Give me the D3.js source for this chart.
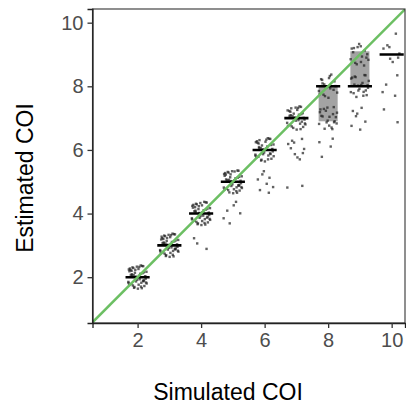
<!DOCTYPE html>
<html>
<head>
<meta charset="utf-8">
<script src="https://cdn.jsdelivr.net/npm/d3@7"></script>
<style>
  body { margin: 0; background: #fff; }
  svg { display: block; font-family: "Liberation Sans", Arial, sans-serif; }
</style>
</head>
<body>
<div id="chart"></div>
<script>
// simulated COI groups and the summary read off the boxes
var simulatedCOI = [2, 3, 4, 5, 6, 7, 8, 9, 10];
var medianCOI = [2, 3, 4, 5, 6, 7, 8, 8, 9];
var q1COI = [2, 3, 4, 5, 6, 7, 6.9, 8, 9];
var q3COI = [2, 3, 4, 5, 6, 7, 8, 9.1, 9];

// estimated COI per group: [estimate, number of runs]
var estimatesCOI = [
  [[2, 50]],
  [[3, 48]],
  [[4, 45], [3, 3]],
  [[5, 42], [4, 6]],
  [[6, 38], [5, 8]],
  [[7, 34], [6, 10], [5, 2]],
  [[8, 18], [7, 22], [6, 4]],
  [[9, 16], [8, 22], [7, 7]],
  [[10, 1], [9, 7], [8, 4], [7, 2]]
];

var xTicks = [2, 4, 6, 8, 10];
var yTicks = [2, 4, 6, 8, 10];

// fixed jitter table (fractions of the jitter width / height)
var jitterX = [0.62,-0.81,0.14,-0.37,0.93,-0.05,0.48,-0.66,0.27,-0.92,0.71,-0.19,0.39,-0.54,0.85,-0.28,0.03,-0.74,0.57,-0.41,0.18,-0.88,0.66,-0.12,0.95,-0.59,0.33,-0.97,0.09,-0.33,0.77,-0.63,0.22,-0.49,0.51,-0.08,0.89,-0.71,0.44,-0.24,0.68,-0.86,0.11,-0.45,0.81,-0.16,0.36,-0.58,0.59,-0.95];
var jitterY = [-0.34,0.72,0.11,-0.88,0.45,-0.21,0.93,-0.57,0.28,0.64,-0.73,0.05,-0.46,0.81,-0.12,0.37,-0.95,0.59,-0.29,0.16,0.85,-0.64,0.41,-0.07,-0.52,0.24,0.97,-0.39,0.68,-0.81,0.02,0.53,-0.17,-0.69,0.33,0.87,-0.44,0.19,-0.91,0.61,-0.26,0.49,-0.62,0.76,0.08,-0.35,-0.78,0.14,0.91,-0.48];

var W = 406, H = 407;
var margin = {top: 9, right: 1, bottom: 84, left: 92.5};
var width = W - margin.left - margin.right,
    height = H - margin.top - margin.bottom;

var svg = d3.select("#chart").append("svg")
    .attr("width", W)
    .attr("height", H);

svg.append("defs").append("clipPath")
    .attr("id", "panel-clip")
    .append("rect")
    .attr("width", width)
    .attr("height", height);

var g = svg.append("g")
    .attr("transform", "translate(" + margin.left + "," + margin.top + ")");

var x = d3.scaleLinear().domain([0.58, 10.42]).range([0, width]);
var y = d3.scaleLinear().domain([0.56, 10.43]).range([height, 0]);

// build jittered points
var points = [];
simulatedCOI.forEach(function(s, gi) {
  var k = 0;
  estimatesCOI[gi].forEach(function(e) {
    for (var n = 0; n < e[1]; n++) {
      var j = (k + gi * 11) % jitterX.length;
      points.push({x: s + jitterX[j] * 0.3, y: e[0] + jitterY[j] * 0.38});
      k++;
    }
  });
});

var plot = g.append("g").attr("clip-path", "url(#panel-clip)");

// boxes
plot.selectAll(".box")
    .data(simulatedCOI)
    .enter().append("rect")
    .attr("class", "box")
    .attr("x", function(d) { return x(d - 0.3); })
    .attr("width", x(0.6) - x(0))
    .attr("y", function(d, i) { return y(q3COI[i]); })
    .attr("height", function(d, i) { return y(q1COI[i]) - y(q3COI[i]); })
    .style("fill", "#a3a3a3");

// jittered points
plot.selectAll(".pt")
    .data(points)
    .enter().append("rect")
    .attr("class", "pt")
    .attr("x", function(d) { return x(d.x) - 1.2; })
    .attr("y", function(d) { return y(d.y) - 1.2; })
    .attr("width", 2.4)
    .attr("height", 2.4)
    .style("fill", "#1f1f1f")
    .style("opacity", 0.7);

// medians
plot.selectAll(".med")
    .data(simulatedCOI)
    .enter().append("line")
    .attr("class", "med")
    .attr("x1", function(d) { return x(d - 0.38); })
    .attr("x2", function(d) { return x(d + 0.38); })
    .attr("y1", function(d, i) { return y(medianCOI[i]); })
    .attr("y2", function(d, i) { return y(medianCOI[i]); })
    .style("stroke", "#000")
    .style("stroke-width", 2.6);

// identity line
var lo = Math.max(x.domain()[0], y.domain()[0]),
    hi = Math.min(x.domain()[1], y.domain()[1]);
plot.append("line")
    .attr("x1", x(lo)).attr("y1", y(lo))
    .attr("x2", x(hi)).attr("y2", y(hi))
    .style("stroke", "#6cbf63")
    .style("stroke-width", 2.5);

// panel border
g.append("rect")
    .attr("x", 0).attr("y", 0)
    .attr("width", width).attr("height", height)
    .style("fill", "none")
    .style("stroke", "#333")
    .style("stroke-width", 1.1);

// axes
var xAxis = g.append("g")
    .attr("transform", "translate(0," + height + ")")
    .call(d3.axisBottom(x).tickValues(xTicks).tickSize(5).tickPadding(5));
var yAxis = g.append("g")
    .call(d3.axisLeft(y).tickValues(yTicks).tickSize(5).tickPadding(4));

[xAxis, yAxis].forEach(function(a) {
  a.select(".domain").attr("stroke", "#222").attr("stroke-width", 1.3);
  a.selectAll(".tick line").attr("stroke", "#333").attr("stroke-width", 1.3);
  a.selectAll(".tick text")
      .style("font-size", "20px")
      .style("font-family", "'Liberation Sans', Arial, sans-serif")
      .attr("fill", "#4d4d4d");
});

// axis titles
svg.append("text")
    .attr("x", 228)
    .attr("y", 400)
    .style("text-anchor", "middle")
    .style("font-size", "23px")
    .style("fill", "#000")
    .text("Simulated COI");

svg.append("text")
    .attr("transform", "translate(33,178) rotate(-90)")
    .style("text-anchor", "middle")
    .style("font-size", "23px")
    .style("fill", "#000")
    .text("Estimated COI");
</script>
</body>
</html>
